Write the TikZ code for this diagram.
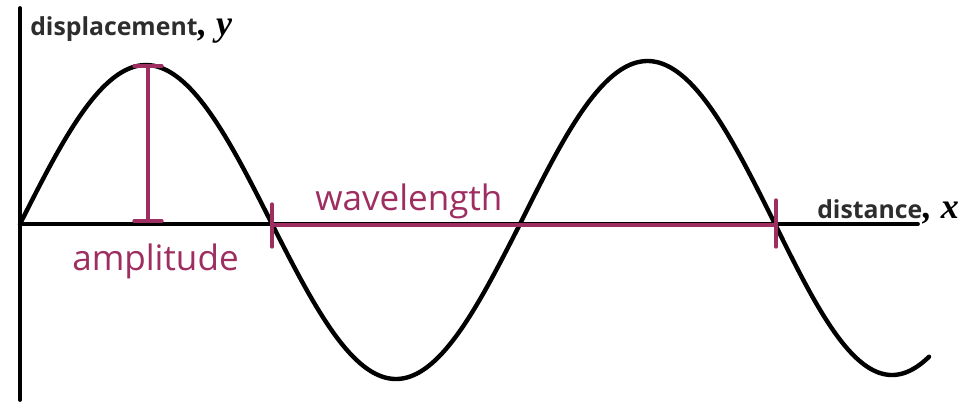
\documentclass[tikz,border=0pt]{standalone}
\usepackage{fontspec}
\setsansfont{Open Sans}
\newfontfamily\varfont{Liberation Serif}
\definecolor{wavepink}{RGB}{158,45,96}
\definecolor{labelgrey}{RGB}{45,45,45}

\tikzset{
	axisline/.style={line width=2.8pt, black},
	markline/.style={line width=2.4pt, wavepink},
	pinklabel/.style={anchor=base west, inner sep=0pt, text=wavepink, font=\sffamily\fontsize{26.3}{30}\selectfont},
	axislabel/.style={anchor=base west, inner sep=0pt, text=labelgrey, font=\sffamily\bfseries\fontsize{18.6}{22}\selectfont},
	varlabel/.style={anchor=base west, inner sep=0pt, font=\varfont\bfseries\itshape\fontsize{27}{30}\selectfont}
}

\begin{document}
\begin{tikzpicture}[x=0.75pt, y=-0.75pt, line join=round, line cap=round]
	\useasboundingbox (0,0) rectangle (964,405);
	
	\coordinate (O) at (20,224);
	\coordinate (Ytop) at (20,8);
	\coordinate (Ybot) at (20,400);
	\coordinate (Xend) at (918,224);
	
	\draw[axisline] (Ybot)--(Ytop);
	\draw[axisline] (O)--(Xend);
	
	% the wave, one half wave at a time
	\draw[line width=3.3pt, samples=80, smooth, variable=\t]
		plot[domain=20:272] (\t, {224-159*sin((\t-20)/252*180)})
		-- plot[domain=272:520] (\t, {224+155*sin((\t-272)/248*180)})
		-- plot[domain=520:775] (\t, {224-163*sin((\t-520)/255*180)})
		-- plot[domain=775:929] (\t, {224+151*sin((\t-775)/234*180)});
	
	% amplitude marker
	\coordinate (P) at (148,66);
	\coordinate (Q) at (148,221);
	\draw[markline] (P)--(Q);
	\draw[markline] ([xshift=-14*0.75pt]P)--([xshift=14*0.75pt]P);
	\draw[markline] ([xshift=-14*0.75pt]Q)--([xshift=14*0.75pt]Q);
	
	% wavelength marker
	\coordinate (L1) at (272,225);
	\coordinate (L2) at (776,225);
	\draw[markline] (L1)--(L2);
	\draw[markline] ([yshift=21*0.75pt]L1)--([yshift=-22*0.75pt]L1);
	\draw[markline] ([yshift=25*0.75pt]L2)--([yshift=-22*0.75pt]L2);
	
	% labels
	\node[axislabel] (disp) at (30,35) {displacement};
	\node[varlabel] (y) at (disp.base east) {, y};
	\node[axislabel] (dist) at (817,218) {distance};
	\node[varlabel] (x) at (dist.base east) {, x};
	\node[pinklabel] (amp) at (72,270) {amplitude};
	\node[pinklabel] (wl) at (315,210) {wavelength};
\end{tikzpicture}
\end{document}
